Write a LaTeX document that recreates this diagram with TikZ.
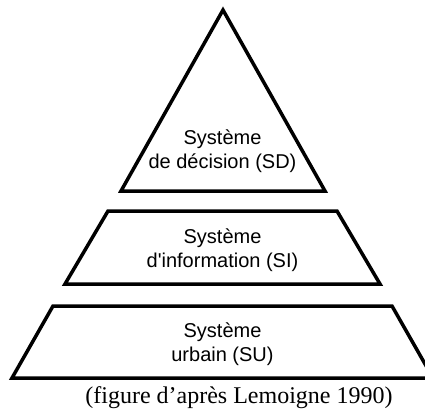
\documentclass[tikz,border=0pt]{standalone}
\usepackage{fontspec}
\setmainfont{Liberation Serif}
\newfontfamily\pyramidfont{Liberation Sans}

\begin{document}
\begin{tikzpicture}[x=1pt,y=-1pt,
            level/.style={draw, line width=3.5pt, line join=miter},
            leveltext/.style={font=\pyramidfont\fontsize{20}{24}\selectfont, align=center, inner sep=0pt},
            caption/.style={font=\fontsize{24}{28}\selectfont, inner sep=0pt, anchor=base}]
            \useasboundingbox (0,0) rectangle (425,412);
            \clip (0,0) rectangle (425,412);
            % les trois niveaux
            \draw[level] (223,10) -- (325,191) -- (121,191) -- cycle;
            \draw[level] (108,211) -- (337,211) -- (380,284) -- (65,284) -- cycle;
            \draw[level] (53,306) -- (392,306) -- (433,378) -- (12,378) -- cycle;
            \node[leveltext] (sd) at (222.5,151.5) {Système\\de décision (SD)};
            \node[leveltext] (si) at (222.5,250.5) {Système\\d'information (SI)};
            \node[leveltext] (su) at (222.5,344.5) {Système\\urbain (SU)};
            \node[caption] (source) at (239,403) {(figure d’après Lemoigne 1990)};
        \end{tikzpicture}
\end{document}
